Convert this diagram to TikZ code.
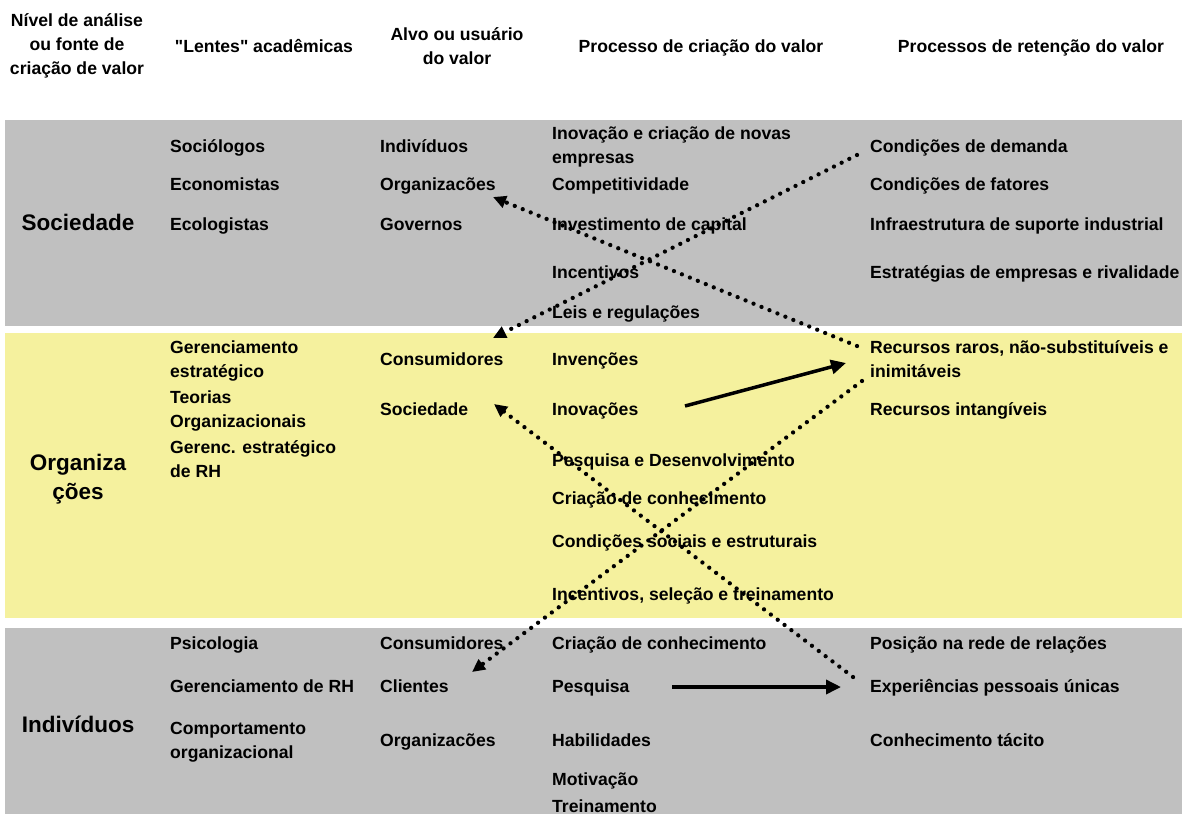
\documentclass[tikz,border=0pt]{standalone}
\usepackage{fontspec}
\setmainfont{Liberation Sans}[Ligatures=TeXOff]
\usetikzlibrary{arrows.meta}
\definecolor{bandgray}{RGB}{192,192,192}
\definecolor{bandyellow}{RGB}{245,241,158}
\newcommand{\lines}[1]{\begin{tabular}[t]{@{}l@{}}#1\end{tabular}}
\newcommand{\clines}[1]{\begin{tabular}[t]{@{}c@{}}#1\end{tabular}}
\begin{document}
\begin{tikzpicture}[x=1pt,y=-1pt,
  txt/.style={inner sep=0pt,anchor=base west,font=\fontsize{17.6}{24}\selectfont\bfseries},
  hdr/.style={inner sep=0pt,anchor=base,font=\fontsize{17.6}{24}\selectfont\bfseries},
  level/.style={inner sep=0pt,anchor=base,font=\fontsize{22.5}{29}\selectfont\bfseries},
  dotarrow/.style={line width=4.3pt,line cap=round,dash pattern=on 0pt off 8.6pt,
    -{Triangle[length=13pt,width=12pt]}},
  solidarrow/.style={line width=3.5pt,-{Triangle[length=15pt,width=14pt]}}]
\useasboundingbox (0,0) rectangle (1182,814);

% bands
\fill[bandgray]   (5,120) rectangle (1182,326);
\fill[bandyellow] (5,333) rectangle (1182,618);
\fill[bandgray]   (5,628) rectangle (1182,814);

% column headings
\node[hdr] (h1) at (77,26) {\clines{Nível de análise\\ou fonte de\\criação de valor}};
\node[hdr] (h2) at (264,52) {"Lentes" acadêmicas};
\node[hdr] (h3) at (457,40) {\clines{Alvo ou usuário\\do valor}};
\node[hdr] (h4) at (701,52) {Processo de criação do valor};
\node[hdr] (h5) at (1031,52) {Processos de retenção do valor};

% level names
\node[level] (lsoc) at (78,230) {Sociedade};
\node[level] (lorg) at (78,470) {\clines{Organiza\\ções}};
\node[level] (lind) at (78,732) {Indivíduos};

% society band
\node[txt] (s2a) at (170,152) {Sociólogos};
\node[txt] (s2b) at (170,190) {Economistas};
\node[txt] (s2c) at (170,230) {Ecologistas};
\node[txt] (s3a) at (380,152) {Indivíduos};
\node[txt] (s3b) at (380,190) {Organizacões};
\node[txt] (s3c) at (380,230) {Governos};
\node[txt] (s4a) at (552,139) {\lines{Inovação e criação de novas\\empresas}};
\node[txt] (s4b) at (552,190) {Competitividade};
\node[txt] (s4c) at (552,230) {Investimento de capital};
\node[txt] (s4d) at (552,278) {Incentivos};
\node[txt] (s4e) at (552,318) {Leis e regulações};
\node[txt] (s5a) at (870,152) {Condições de demanda};
\node[txt] (s5b) at (870,190) {Condições de fatores};
\node[txt] (s5c) at (870,230) {Infraestrutura de suporte industrial};
\node[txt] (s5d) at (870,278) {Estratégias de empresas e rivalidade};

% organisation band
\node[txt] (o2a) at (170,353) {\lines{Gerenciamento\\estratégico}};
\node[txt] (o2b) at (170,403) {\lines{Teorias\\Organizacionais}};
\node[txt] (o2c) at (170,453) {\lines{Gerenc. estratégico\\de RH}};
\node[txt] (o3a) at (380,365) {Consumidores};
\node[txt] (o3b) at (380,415) {Sociedade};
\node[txt] (o4a) at (552,365) {Invenções};
\node[txt] (o4b) at (552,415) {Inovações};
\node[txt] (o4c) at (552,466) {Pesquisa e Desenvolvimento};
\node[txt] (o4d) at (552,504) {Criação de conhecimento};
\node[txt] (o4e) at (552,547) {Condições sociais e estruturais};
\node[txt] (o4f) at (552,600) {Incentivos, seleção e treinamento};
\node[txt] (o5a) at (870,353) {\lines{Recursos raros, não-substituíveis e\\inimitáveis}};
\node[txt] (o5b) at (870,415) {Recursos intangíveis};

% individual band
\node[txt] (i2a) at (170,649) {Psicologia};
\node[txt] (i2b) at (170,692) {Gerenciamento de RH};
\node[txt] (i2c) at (170,734) {\lines{Comportamento\\organizacional}};
\node[txt] (i3a) at (380,649) {Consumidores};
\node[txt] (i3b) at (380,692) {Clientes};
\node[txt] (i3c) at (380,746) {Organizacões};
\node[txt] (i4a) at (552,649) {Criação de conhecimento};
\node[txt] (i4b) at (552,692) {Pesquisa};
\node[txt] (i4c) at (552,746) {Habilidades};
\node[txt] (i4d) at (552,785) {Motivação};
\node[txt] (i4e) at (552,812) {Treinamento};
\node[txt] (i5a) at (870,649) {Posição na rede de relações};
\node[txt] (i5b) at (870,692) {Experiências pessoais únicas};
\node[txt] (i5c) at (870,746) {Conhecimento tácito};

% connector end points
\coordinate (d1s) at (857,155);  \coordinate (d1e) at (493,338);
\coordinate (d2s) at (857,346);  \coordinate (d2e) at (493,197);
\coordinate (d3s) at (862,381);  \coordinate (d3e) at (472,672);
\coordinate (d4s) at (853,677);  \coordinate (d4e) at (494,404);
\coordinate (a1s) at (685,406);  \coordinate (a1e) at (846,363);
\coordinate (a2s) at (672,687);  \coordinate (a2e) at (841,687);

% dotted links between levels
\draw[dotarrow] (d1s) -- (d1e);
\draw[dotarrow] (d2s) -- (d2e);
\draw[dotarrow] (d3s) -- (d3e);
\draw[dotarrow] (d4s) -- (d4e);

% solid links
\draw[solidarrow] (a1s) -- (a1e);
\draw[solidarrow] (a2s) -- (a2e);
\end{tikzpicture}
\end{document}
